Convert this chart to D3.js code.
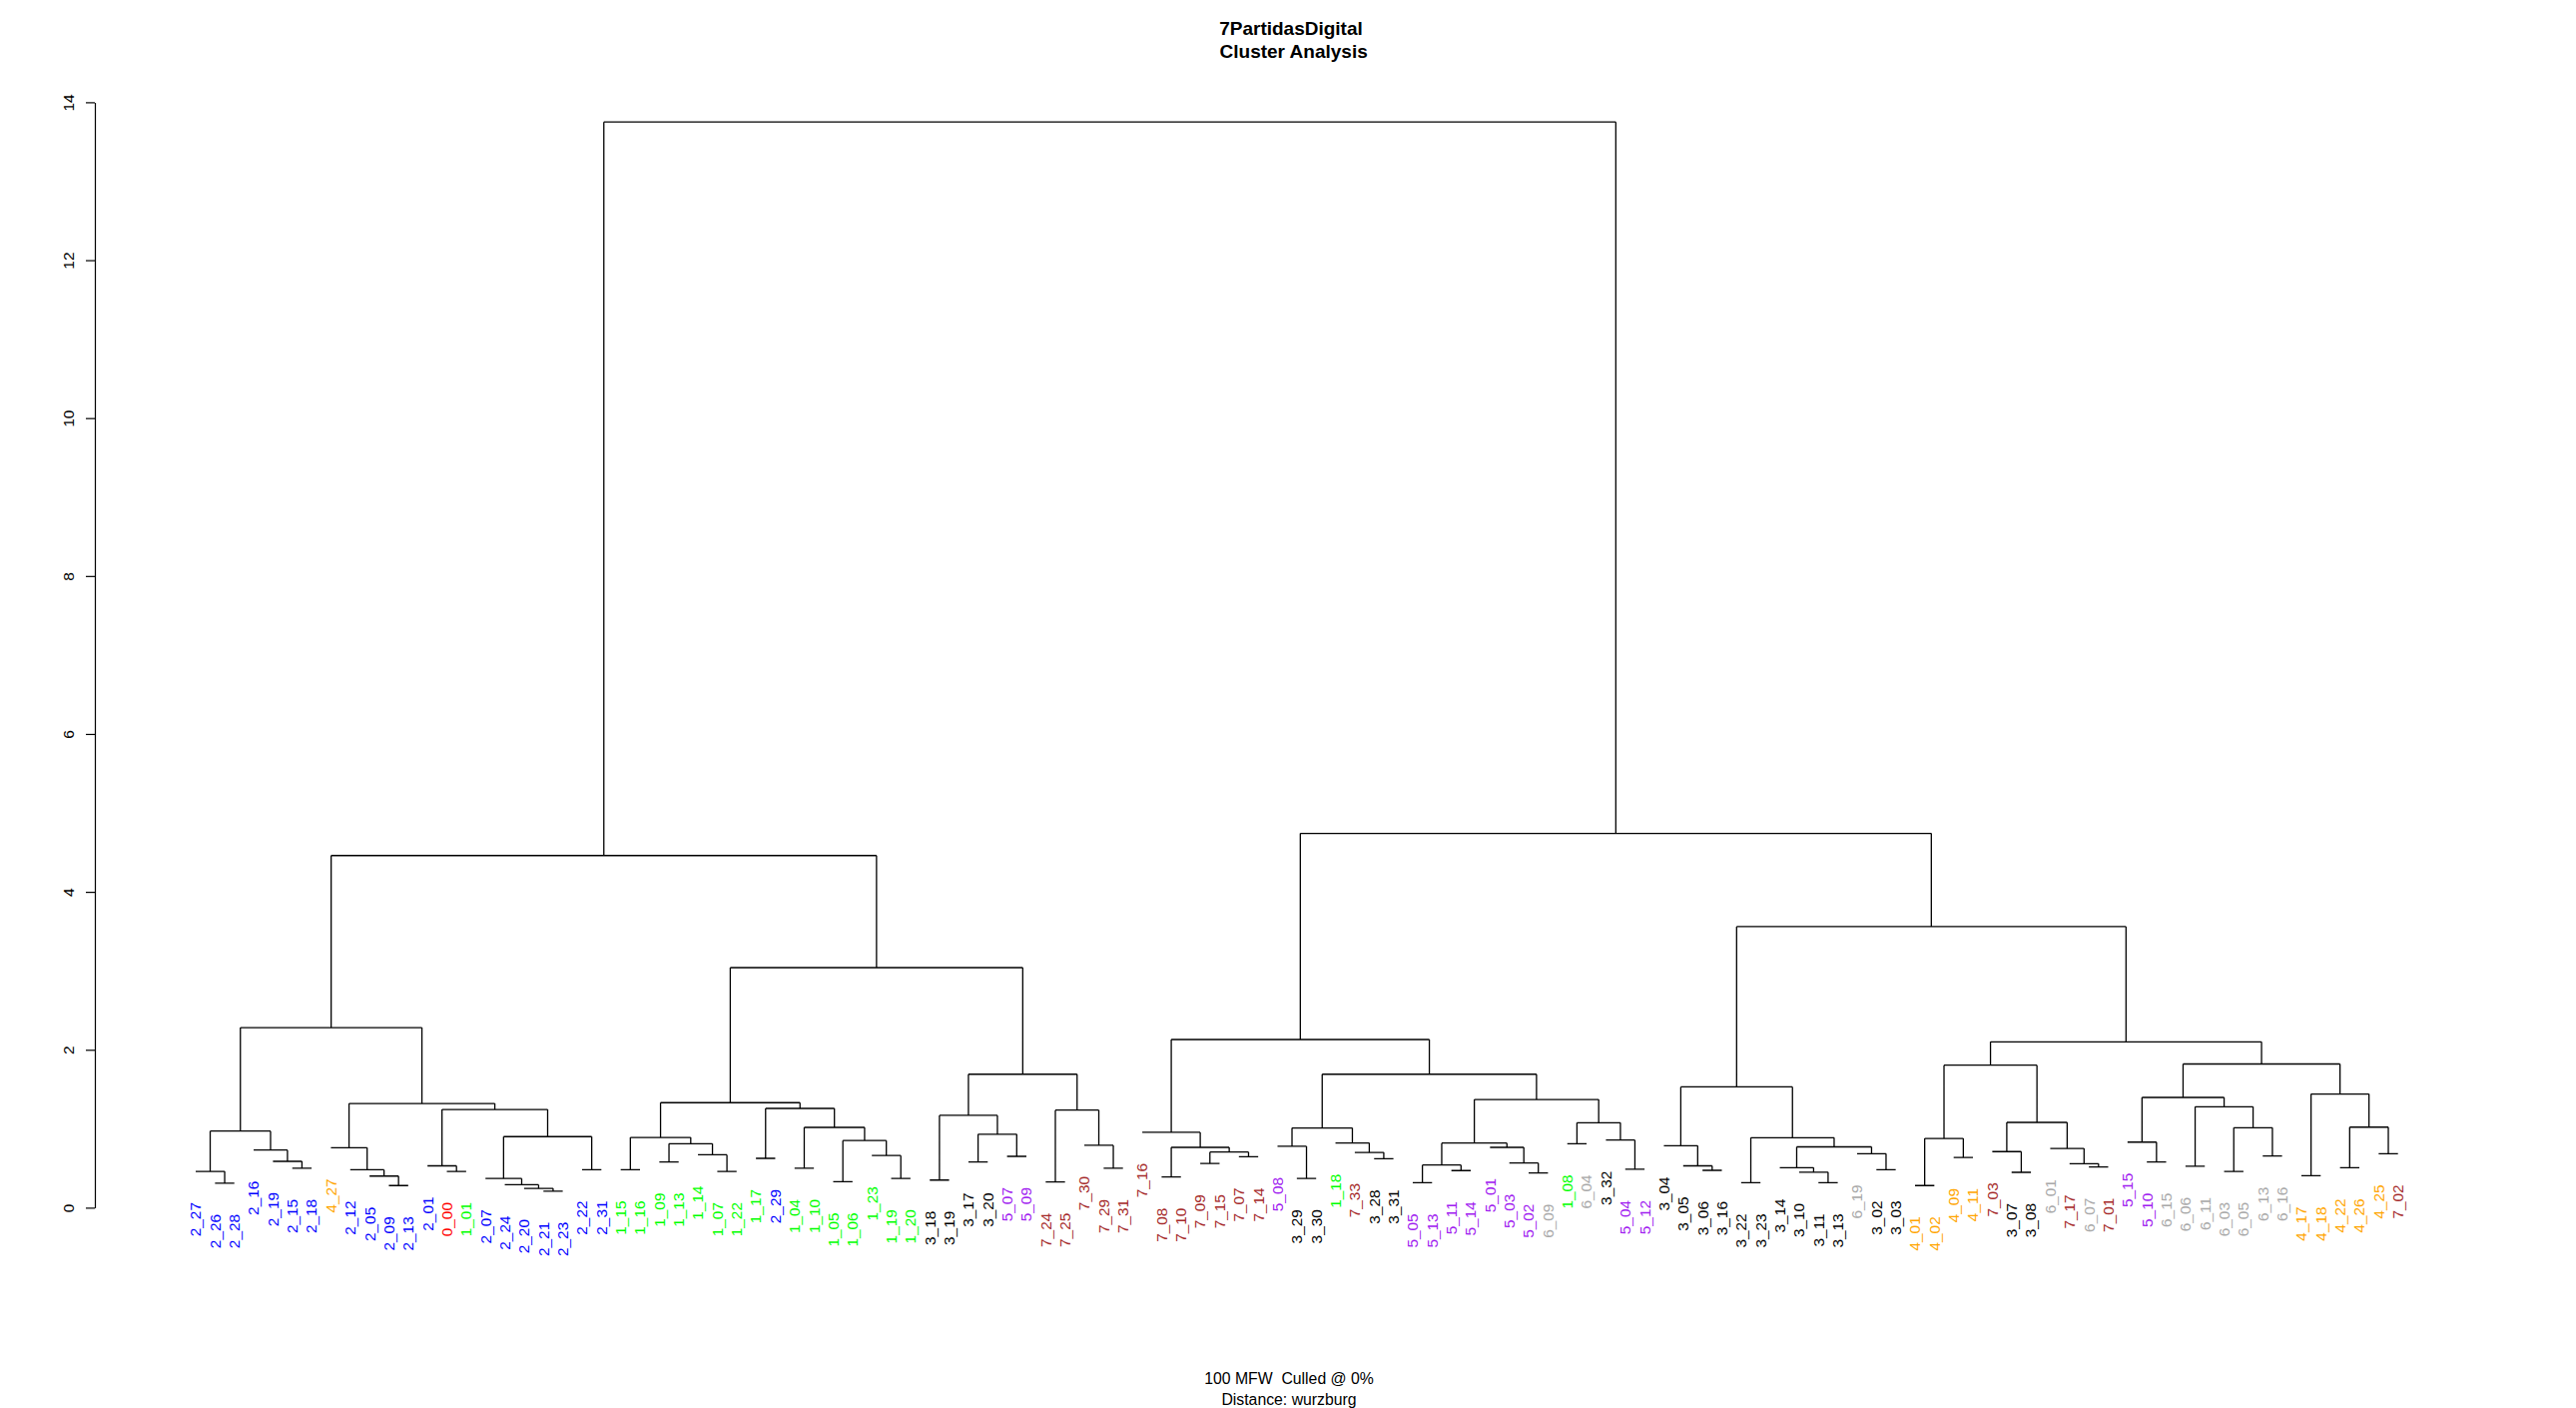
<!DOCTYPE html>
<html><head><meta charset="utf-8">
<script src="https://cdn.jsdelivr.net/npm/d3@7"></script>
<style>
body{margin:0;background:#fff}
svg{display:block}
text{font-family:"Liberation Sans", Arial, sans-serif}
</style>
</head><body>
<svg id="c" width="2580" height="1410"></svg>
<script>
// ---- data: merge heights (node = [height, child, child]; leaves are sample names) ----
const subL1 = [2.28,
  [0.97,
    [0.46, "2_27", [0.31, "2_26", "2_28"]],
    [0.73, "2_16", [0.587, "2_19", [0.50, "2_15", "2_18"]]]],
  [1.32,
    [0.76, "4_27", [0.48, "2_12", [0.40, "2_05", [0.28, "2_09", "2_13"]]]],
    [1.244,
      [0.53, "2_01", [0.46, "0_00", "1_01"]],
      [0.90,
        [0.37, "2_07", [0.29, "2_24", [0.245, "2_20", [0.21, "2_21", "2_23"]]]],
        [0.48, "2_22", "2_31"]]]]];

const subLR = [3.04,
  [1.33,
    [0.89, [0.48, "1_15", "1_16"], [0.81, [0.58, "1_09", "1_13"], [0.67, "1_14", [0.46, "1_07", "1_22"]]]],
    [1.257, [0.625, "1_17", "2_29"], [1.017, [0.50, "1_04", "1_10"], [0.85, [0.33, "1_05", "1_06"], [0.66, "1_23", [0.37, "1_19", "1_20"]]]]]],
  [1.69,
    [1.17, [0.35, "3_18", "3_19"], [0.93, [0.58, "3_17", "3_20"], [0.65, "5_07", "5_09"]]],
    [1.236, [0.325, "7_24", "7_25"], [0.79, "7_30", [0.50, "7_29", "7_31"]]]]];

const subRL = [2.13,
  [0.954, "7_16", [0.764, [0.39, "7_08", "7_10"], [0.705, [0.56, "7_09", "7_15"], [0.646, "7_07", "7_14"]]]],
  [1.69,
    [1.01, [0.777, "5_08", [0.37, "3_29", "3_30"]], [0.82, "1_18", [0.70, "7_33", [0.62, "3_28", "3_31"]]]],
    [1.37,
      [0.818, [0.54, [0.317, "5_05", "5_13"], [0.47, "5_11", "5_14"]], [0.764, "5_01", [0.565, "5_03", [0.44, "5_02", "6_09"]]]],
      [1.076, [0.81, "1_08", "6_04"], [0.857, "3_32", [0.486, "5_04", "5_12"]]]]]];

const subRR = [3.56,
  [1.53,
    [0.785, "3_04", [0.53, "3_05", [0.473, "3_06", "3_16"]]],
    [0.886, [0.317, "3_22", "3_23"], [0.77, [0.507, "3_14", [0.45, "3_10", [0.317, "3_11", "3_13"]]], [0.684, "6_19", [0.48, "3_02", "3_03"]]]]],
  [2.10,
    [1.805,
      [0.877, [0.28, "4_01", "4_02"], [0.637, "4_09", "4_11"]],
      [1.08, [0.71, "7_03", [0.448, "3_07", "3_08"]], [0.75, "6_01", [0.557, "7_17", [0.515, "6_07", "7_01"]]]]],
    [1.82,
      [1.396, [0.83, "5_15", [0.578, "5_10", "6_15"]], [1.278, [0.524, "6_06", "6_11"], [1.013, [0.46, "6_03", "6_05"], [0.654, "6_13", "6_16"]]]],
      [1.44, [0.405, "4_17", "4_18"], [1.02, [0.507, "4_22", "4_26"], [0.684, "4_25", "7_02"]]]]]];

const rootHeights = [13.75, 4.46, 4.74];
const groupKeys   = ["0", "1", "2", "3", "4", "5", "6", "7"];
const groupColors = ["#FF0000", "#00FF00", "#0000FF", "#000000", "#FFA500", "#A020F0", "#A9A9A9", "#A52A2A"];
const yTicks = [0, 2, 4, 6, 8, 10, 12, 14];
const titleLines = ["7PartidasDigital", " Cluster Analysis"];
const subLines = ["100 MFW  Culled @ 0%", "Distance: wurzburg"];

// ---- layout ----
const W = 2580, H = 1410;
const svg = d3.select("#c");
const tree = [rootHeights[0], [rootHeights[1], subL1, subLR], [rootHeights[2], subRL, subRR]];
function toNode(a){ return typeof a === "string" ? {name:a} : {h:a[0], children:[toNode(a[1]), toNode(a[2])]}; }
const hier = d3.hierarchy(toNode(tree));
const leaves = hier.leaves();
const x = d3.scalePoint().domain(leaves.map(d => d.data.name)).range([196, 2401.7]);
const y = d3.scaleLinear().domain([0, 14]).range([1209.4, 102.4]);
const color = d3.scaleOrdinal().domain(groupKeys).range(groupColors);
const hangPx = 31;

hier.eachAfter(n => {
  n.x = n.children ? (n.children[0].x + n.children[1].x) / 2 : x(n.data.name);
});

// edges
let path = "";
hier.each(n => {
  if (!n.children) return;
  const yy = y(n.data.h);
  const [a, b] = n.children;
  path += `M${a.x},${yy}H${b.x}`;
  n.children.forEach(c => { if (c.children) path += `M${c.x},${yy}V${y(c.data.h)}`; });
});
svg.append("path").attr("d", path).attr("fill", "none").attr("stroke", "#000").attr("stroke-width", 1.3);

// leaf labels
svg.append("g").selectAll("text").data(leaves).join("text")
  .attr("transform", d => `translate(${d.x},${y(d.parent.data.h) + hangPx}) rotate(-90)`)
  .attr("text-anchor", "end").attr("dy", "0.35em")
  .attr("font-size", "15.4px")
  .attr("fill", d => color(d.data.name.split("_")[0]))
  .text(d => d.data.name);

// y axis
const ax = svg.append("g").attr("transform", "translate(95,0)")
  .call(d3.axisLeft(y).tickValues(yTicks).tickSize(9).tickSizeOuter(0).tickFormat(d3.format("d")));
ax.select(".domain").attr("stroke", "#000").attr("stroke-width", 1.2);
ax.selectAll(".tick line").attr("stroke", "#000").attr("stroke-width", 1.2);
ax.selectAll(".tick text")
  .attr("x", null).attr("dy", "0.35em")
  .attr("transform", "translate(-26,0) rotate(-90)")
  .attr("text-anchor", "middle")
  .attr("font-size", "15.5px").attr("font-family", "Liberation Sans, Arial, sans-serif").attr("fill", "#000");

// titles
svg.append("g").selectAll("text").data(titleLines).join("text")
  .attr("x", 1293).attr("y", (d, i) => 35 + i * 23)
  .attr("text-anchor", "middle").attr("font-weight", "bold").attr("font-size", "19px")
  .style("white-space", "pre").text(d => d);

svg.append("g").selectAll("text").data(subLines).join("text")
  .attr("x", 1291).attr("y", (d, i) => 1386 + i * 21)
  .attr("text-anchor", "middle").attr("font-size", "15.8px")
  .style("white-space", "pre").text(d => d);
</script>
</body></html>
